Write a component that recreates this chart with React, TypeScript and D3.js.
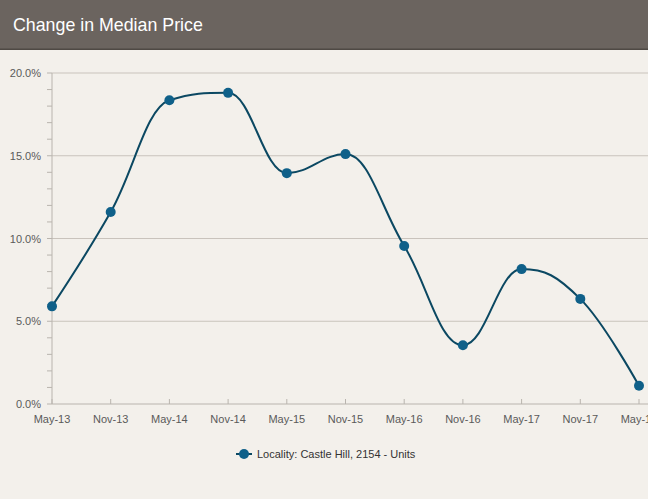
import React from "react";
import * as d3 from "d3";

const categories = ["May-13","Nov-13","May-14","Nov-14","May-15","Nov-15","May-16","Nov-16","May-17","Nov-17","May-18"];
const values = [5.9, 11.6, 18.35, 18.8, 13.95, 15.1, 9.55, 3.55, 8.15, 6.35, 1.1];
const yTicks = [0, 5, 10, 15, 20];
const yMinorTicks = d3.range(0, 21, 1);
const seriesName = "Locality: Castle Hill, 2154 - Units";
const title = "Change in Median Price";

const W = 648, H = 499;
const left = 52, right = 639, top = 73, bottom = 404;

function splinePath(pts: [number, number][]) {
  const smoothing = 1.5, denom = smoothing + 1;
  let d = "";
  const rc: (null | [number, number])[] = pts.map(() => null);
  pts.forEach((p, i) => {
    const [x, y] = p;
    if (i === 0) { d += `M${x},${y}`; return; }
    const last = pts[i - 1], next = pts[i + 1];
    let lcx: number | undefined, lcy: number | undefined;
    if (next) {
      lcx = (smoothing * x + last[0]) / denom;
      lcy = (smoothing * y + last[1]) / denom;
      const rcx = (smoothing * x + next[0]) / denom;
      let rcy = (smoothing * y + next[1]) / denom;
      let correction = 0;
      if (rcx !== lcx) correction = ((rcy - lcy) * (rcx - x)) / (rcx - lcx) + y - rcy;
      lcy += correction; rcy += correction;
      if (lcy > last[1] && lcy > y) { lcy = Math.max(last[1], y); rcy = 2 * y - lcy; }
      else if (lcy < last[1] && lcy < y) { lcy = Math.min(last[1], y); rcy = 2 * y - lcy; }
      if (rcy > next[1] && rcy > y) { rcy = Math.max(next[1], y); lcy = 2 * y - rcy; }
      else if (rcy < next[1] && rcy < y) { rcy = Math.min(next[1], y); lcy = 2 * y - rcy; }
      rc[i] = [rcx, rcy];
    }
    const prc = rc[i - 1] || last;
    d += `C${prc[0]},${prc[1]},${lcx ?? x},${lcy ?? y},${x},${y}`;
  });
  return d;
}

export default function App() {
  const x = d3.scalePoint<string>().domain(categories).range([left, right]);
  const y = d3.scaleLinear().domain([0, 20]).range([bottom, top]);
  const pts: [number, number][] = values.map((v, i) => [x(categories[i])!, y(v)]);
  const font = "'Liberation Sans', Arial, sans-serif";
  const lineColor = "#0b4862";
  const markerColor = "#0f6089";
  return (
    <svg width={W} height={H} style={{ position: "absolute", left: 0, top: 0, display: "block" }}>
      <rect x={0} y={0} width={W} height={H} fill="#f3f0eb" />
      <rect x={0} y={0} width={W} height={49} fill="#6b645f" />
      <rect x={0} y={48.5} width={W} height={1.5} fill="#4f4944" />
      <text x={13} y={31} fill="#ffffff" fontFamily={font} fontSize={17.8}>{title}</text>
      {yTicks.filter(t => t > 0).map(t => (
        <line key={t} x1={left} x2={W} y1={y(t)} y2={y(t)} stroke="#c9c3bc" strokeWidth={1} />
      ))}
      {yMinorTicks.map(t => (
        <line key={"m" + t} x1={left - 5} x2={left} y1={y(t)} y2={y(t)} stroke="#b9b4ae" strokeWidth={1} />
      ))}
      <line x1={left} x2={left} y1={top} y2={bottom} stroke="#b9b4ae" strokeWidth={1} />
      <line x1={left} x2={W} y1={bottom} y2={bottom} stroke="#b9b4ae" strokeWidth={1} />
      {categories.map(c => (
        <line key={"xt" + c} x1={x(c)!} x2={x(c)!} y1={bottom - 5} y2={bottom} stroke="#b9b4ae" strokeWidth={1} />
      ))}
      {yTicks.map(t => (
        <text key={"yl" + t} x={left - 11} y={y(t) + 4} textAnchor="end" fill="#5a5a5a" fontFamily={font} fontSize={11}>{t.toFixed(1) + "%"}</text>
      ))}
      {categories.map(c => (
        <text key={"xl" + c} x={x(c)!} y={bottom + 19} textAnchor="middle" fill="#5a5a5a" fontFamily={font} fontSize={11}>{c}</text>
      ))}
      <path d={splinePath(pts)} fill="none" stroke={lineColor} strokeWidth={2} />
      {pts.map((p, i) => (
        <circle key={"pt" + i} cx={p[0]} cy={p[1]} r={5} fill={markerColor} />
      ))}
      <line x1={236} x2={252} y1={454} y2={454} stroke={lineColor} strokeWidth={2} />
      <circle cx={244} cy={454} r={5} fill={markerColor} />
      <text x={257} y={458} fill="#333" fontFamily={font} fontSize={11}>{seriesName}</text>
    </svg>
  );
}
